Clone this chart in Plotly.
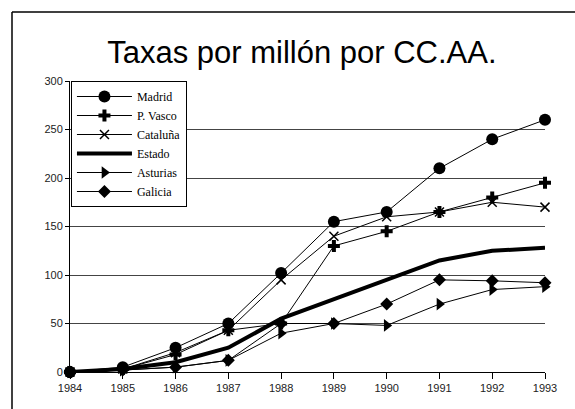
import plotly.graph_objects as go

years = [1984, 1985, 1986, 1987, 1988, 1989, 1990, 1991, 1992, 1993]
madrid = [0, 5, 25, 50, 102, 155, 165, 210, 240, 260]
pvasco = [0, 3, 18, 43, 50, 130, 145, 165, 180, 195]
cataluna = [0, 3, 20, 43, 95, 140, 160, 165, 175, 170]
estado = [0, 3, 10, 25, 55, 75, 95, 115, 125, 128]
asturias = [0, 2, 5, 12, 40, 50, 48, 70, 85, 88]
galicia = [0, 2, 5, 12, 50, 50, 70, 95, 94, 92]

series = [
    ("Madrid", madrid, "circle", 12, 1),
    ("P. Vasco", pvasco, "cross", 10, 1),
    ("Cataluña", cataluna, "x-thin", 9, 1),
    ("Estado", estado, None, 0, 4),
    ("Asturias", asturias, "triangle-right", 11, 1),
    ("Galicia", galicia, "diamond", 10, 1),
]

fig = go.Figure()
for name, vals, sym, size, lw in series:
    if sym is None:
        fig.add_trace(go.Scatter(x=years, y=vals, name=name, mode="lines",
                                 line=dict(color="black", width=lw), cliponaxis=False))
    else:
        fig.add_trace(go.Scatter(
            x=years, y=vals, name=name, mode="lines+markers",
            line=dict(color="black", width=lw),
            marker=dict(symbol=sym, size=size, color="black",
                        line=dict(color="black", width=1.5 if "thin" in sym else 0)),
            cliponaxis=False))

fig.update_layout(
    width=575, height=409,
    margin=dict(l=70, r=30, t=81, b=37),
    paper_bgcolor="white", plot_bgcolor="white",
    title=dict(text="Taxas por millón por CC.AA.", x=0.525, xanchor="center",
               y=0.873, yanchor="middle",
               font=dict(family="Liberation Sans, Arial", size=31, color="black")),
    font=dict(family="Liberation Sans, Arial", size=11, color="#222"),
    xaxis=dict(range=[1984, 1993], tickmode="array", tickvals=years,
               ticktext=[str(y) for y in years],
               showgrid=False, showline=True, linecolor="black", linewidth=1,
               ticks="outside", ticklen=6, tickcolor="black", zeroline=False,
               tickfont=dict(size=11, color="#222")),
    yaxis=dict(range=[0, 300], tickmode="array", tickvals=[0, 50, 100, 150, 200, 250, 300],
               showgrid=True, gridcolor="#444", gridwidth=1,
               showline=True, linecolor="black", linewidth=1,
               ticks="outside", ticklen=4, tickcolor="black", zeroline=False,
               tickfont=dict(size=11, color="#222")),
    legend=dict(x=0.002, y=1.0, xanchor="left", yanchor="top",
                bgcolor="white", bordercolor="black", borderwidth=1,
                font=dict(family="Liberation Serif, Times New Roman", size=12, color="black"),
                tracegroupgap=0, itemwidth=55),
    showlegend=True,
    shapes=[
        dict(type="line", xref="paper", yref="paper", x0=-0.1221, x1=1.2, y0=1.2371, y1=1.2371,
             line=dict(color="black", width=1.5)),
        dict(type="line", xref="paper", yref="paper", x0=-0.1221, x1=-0.1221, y0=1.2371, y1=-0.2,
             line=dict(color="black", width=1.5)),
    ],
)

fig.write_html("out.html")
